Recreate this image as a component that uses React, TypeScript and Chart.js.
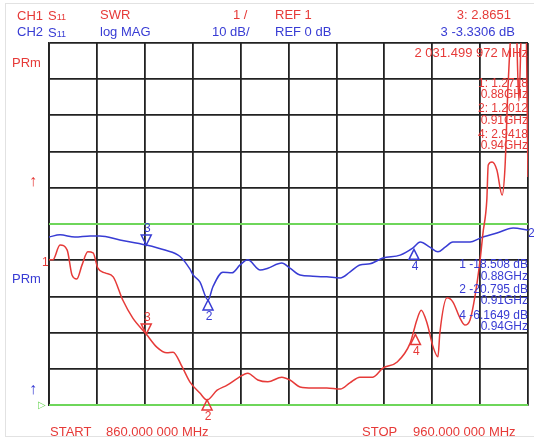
import React, { useEffect, useRef } from "react";
import { Chart, registerables } from "chart.js";

Chart.register(...registerables);

// ---- Data (frequency in MHz, value in grid divisions 0..10) ----
const startFreq = 860;
const stopFreq = 960;

const redFreq = [860, 860.8, 862.3, 863.8, 864.8, 865.8, 866.9, 868.1, 869.2, 870.2, 871.7, 873.4, 875.4, 877.5, 880.3, 882.5, 884.6, 885.9, 887.8, 889.4, 891.5, 893.0, 895.1, 897.2, 899.5, 901.5, 903.6, 905.7, 908.6, 910.3, 912.4, 915.1, 918.0, 920.8, 922.8, 924.9, 927.6, 929.7, 932.7, 935.4, 936.8, 937.7, 938.9, 940.2, 941.2, 941.6, 943.1, 944.3, 945.8, 946.8, 947.9, 948.9, 950.0, 950.6, 951.4, 951.7, 952.5, 953.5, 954.6, 955.2, 955.8, 956.6, 957.4, 958.1, 958.8, 959.5, 960];
const redVal = [4.01, 4.01, 4.42, 4.28, 3.59, 3.48, 3.87, 4.23, 4.2, 3.78, 3.65, 3.54, 2.9, 2.4, 1.96, 1.6, 1.44, 1.46, 1.05, 0.64, 0.33, 0.14, 0.41, 0.55, 0.75, 0.88, 0.69, 0.64, 0.77, 0.69, 0.5, 0.47, 0.47, 0.44, 0.61, 0.77, 0.77, 1.02, 1.19, 1.71, 2.35, 2.62, 2.27, 1.6, 1.33, 1.99, 2.96, 2.85, 2.4, 2.21, 2.35, 2.98, 4.01, 4.75, 5.66, 6.63, 6.71, 6.49, 5.8, 6.57, 8.7, 10.6, 11, 8.4, 11, 11, 6.3];

const blueFreq = [860, 862.3, 865.4, 868.6, 870.6, 874.8, 880.3, 884.2, 887.3, 889.4, 890.1, 891.5, 893.2, 894.2, 896.3, 898.2, 899.9, 901.5, 904.1, 905.7, 908.6, 910.3, 912.4, 915.1, 918.0, 920.8, 922.8, 924.9, 927.0, 929.7, 933.3, 936.0, 937.5, 939.5, 941.2, 942.7, 944.3, 947.9, 950.0, 953.5, 956.9, 960];
const blueVal = [4.64, 4.70, 4.64, 4.67, 4.67, 4.56, 4.42, 4.28, 4.11, 3.76, 3.59, 3.40, 2.90, 3.26, 3.67, 3.65, 3.87, 4.01, 3.73, 3.78, 3.92, 3.78, 3.59, 3.56, 3.54, 3.51, 3.67, 3.87, 3.90, 4.06, 4.14, 4.34, 4.50, 4.36, 4.23, 4.36, 4.50, 4.50, 4.61, 4.75, 4.89, 4.83];

const refLevels = [5, 0];

// markers: label, frequency, value, direction
const redMarkerLabels = ["3", "2", "4"];
const redMarkerFreq = [880.3, 893.0, 936.5];
const redMarkerVal = [1.96, 0.14, 1.95];
const redMarkerDir = ["down", "up", "up"];

const blueMarkerLabels = ["3", "2", "4"];
const blueMarkerFreq = [880.3, 893.2, 936.2];
const blueMarkerVal = [4.42, 2.9, 4.3];
const blueMarkerDir = ["down", "up", "up"];

const redReadout = ["1: 1.2718", "0.88GHz", "2: 1.2012", "0.91GHz", "4: 2.9418", "0.94GHz"];
const blueReadout = ["1 -18.508 dB", "0.88GHz", "2 -20.795 dB", "0.91GHz", "4 -6.1649 dB", "0.94GHz"];

const RED = "rgb(230,58,56)";
const BLUE = "rgb(56,60,212)";
const GREEN = "rgb(110,214,90)";
const GRID = "rgb(34,34,34)";
const FONT = '"Liberation Sans", Arial, sans-serif';

const markerPlugin = {
  id: "markers",
  afterDatasetsDraw(chart: any) {
    const { ctx, scales } = chart;
    const x = scales.x;
    const y = scales.y;
    const draw = (labels: string[], fr: number[], vals: number[], dirs: string[], color: string) => {
      labels.forEach((lab, i) => {
        const px = x.getPixelForValue(fr[i]);
        const py = y.getPixelForValue(vals[i]);
        ctx.save();
        ctx.strokeStyle = color;
        ctx.lineWidth = 1.5;
        ctx.beginPath();
        if (dirs[i] === "down") {
          ctx.moveTo(px, py);
          ctx.lineTo(px - 5, py - 10);
          ctx.lineTo(px + 5, py - 10);
        } else {
          ctx.moveTo(px, py);
          ctx.lineTo(px - 5, py + 10);
          ctx.lineTo(px + 5, py + 10);
        }
        ctx.closePath();
        ctx.stroke();
        ctx.fillStyle = color;
        ctx.font = `12px ${FONT}`;
        ctx.textAlign = "center";
        ctx.textBaseline = "middle";
        ctx.fillText(lab, px + 1, dirs[i] === "down" ? py - 16 : py + 17);
        ctx.restore();
      });
    };
    draw(redMarkerLabels, redMarkerFreq, redMarkerVal, redMarkerDir, RED);
    draw(blueMarkerLabels, blueMarkerFreq, blueMarkerVal, blueMarkerDir, BLUE);
  },
};

const T = (props: { x: number; y: number; c: string; s?: number; right?: boolean; children: React.ReactNode }) => {
  const style: React.CSSProperties = {
    position: "absolute",
    top: props.y,
    fontFamily: FONT,
    fontSize: props.s ?? 13,
    lineHeight: 1,
    color: props.c,
    whiteSpace: "nowrap",
    transform: "translateY(-50%)",
  };
  if (props.right) style.right = 534 - props.x;
  else style.left = props.x;
  return <div style={style}>{props.children}</div>;
};

export default function App() {
  const ref = useRef<HTMLCanvasElement>(null);
  useEffect(() => {
    const chart = new Chart(ref.current!, {
      type: "line",
      data: {
        datasets: [
          {
            label: "CH1 S11 SWR",
            data: redFreq.map((f, i) => ({ x: f, y: redVal[i] })),
            borderColor: RED,
            borderWidth: 1.5,
            pointRadius: 0,
            cubicInterpolationMode: "monotone",
          },
          {
            label: "CH2 S11 log MAG",
            data: blueFreq.map((f, i) => ({ x: f, y: blueVal[i] })),
            borderColor: BLUE,
            borderWidth: 1.5,
            pointRadius: 0,
            cubicInterpolationMode: "monotone",
          },
          ...refLevels.map((lv) => ({
            label: "REF",
            data: [
              { x: startFreq, y: lv },
              { x: stopFreq, y: lv },
            ],
            borderColor: GREEN,
            borderWidth: 2,
            pointRadius: 0,
            clip: 4,
          })),
        ],
      },
      options: {
        animation: false,
        responsive: false,
        maintainAspectRatio: false,
        layout: { padding: { left: 49, top: 43, right: 6, bottom: 34 } },
        plugins: { legend: { display: false }, tooltip: { enabled: false } },
        scales: {
          x: {
            type: "linear",
            min: startFreq,
            max: stopFreq,
            ticks: { display: false, stepSize: 10 },
            grid: { color: GRID, lineWidth: 1.8, drawTicks: false },
            border: { color: GRID, width: 1.8 },
          },
          y: {
            type: "linear",
            min: 0,
            max: 10,
            ticks: { display: false, stepSize: 1 },
            grid: { color: GRID, lineWidth: 1.8, drawTicks: false },
            border: { color: GRID, width: 1.8 },
          },
        },
      },
      plugins: [markerPlugin],
    } as any);
    return () => chart.destroy();
  }, []);

  return (
    <div style={{ position: "fixed", left: 0, top: 0, width: 534, height: 439, background: "#fff", overflow: "hidden" }}>
      <div style={{ position: "absolute", left: 5, top: 3, width: 540, height: 432, border: "1px solid #e2e2e2" }} />
      <canvas ref={ref} width={534} height={439} style={{ position: "absolute", left: 0, top: 0 }} />
      {/* header */}
      <T x={17} y={15} c={RED}>CH1</T>
      <T x={48} y={15} c={RED}>S<span style={{ fontSize: 9 }}>11</span></T>
      <T x={100} y={14} c={RED}>SWR</T>
      <T x={233} y={14} c={RED}>1 /</T>
      <T x={275} y={14} c={RED}>REF 1</T>
      <T x={511} y={14} c={RED} right>3: 2.8651</T>
      <T x={17} y={31} c={BLUE}>CH2</T>
      <T x={48} y={32} c={BLUE}>S<span style={{ fontSize: 9 }}>11</span></T>
      <T x={100} y={31} c={BLUE}>log MAG</T>
      <T x={212} y={31} c={BLUE}>10 dB/</T>
      <T x={275} y={31} c={BLUE}>REF 0 dB</T>
      <T x={515} y={31} c={BLUE} right>3 -3.3306 dB</T>
      <T x={528} y={52} c={RED} right>2 031.499 972 MHz</T>
      {/* left labels */}
      <T x={12} y={62} c={RED}>PRm</T>
      <T x={29} y={181} c={RED} s={16}>↑</T>
      <T x={12} y={278} c={BLUE}>PRm</T>
      <T x={29} y={389} c={BLUE} s={16}>↑</T>
      <T x={42} y={262} c={RED} s={12}>1</T>
      <T x={38} y={405} c={GREEN} s={10}>▷</T>
      <T x={528} y={233} c={BLUE} s={12}>2</T>
      {/* marker readouts */}
      {redReadout.map((t, i) => (
        <T key={"r" + i} x={528} y={[83, 94, 108, 120, 134, 145][i]} c={RED} s={12} right>{t}</T>
      ))}
      {blueReadout.map((t, i) => (
        <T key={"b" + i} x={528} y={[264, 276, 289, 300, 315, 326][i]} c={BLUE} s={12} right>{t}</T>
      ))}
      {/* footer */}
      <T x={50} y={431} c={RED}>START</T>
      <T x={106} y={431} c={RED}>860.000 000 MHz</T>
      <T x={362} y={431} c={RED}>STOP</T>
      <T x={413} y={431} c={RED}>960.000 000 MHz</T>
    </div>
  );
}
